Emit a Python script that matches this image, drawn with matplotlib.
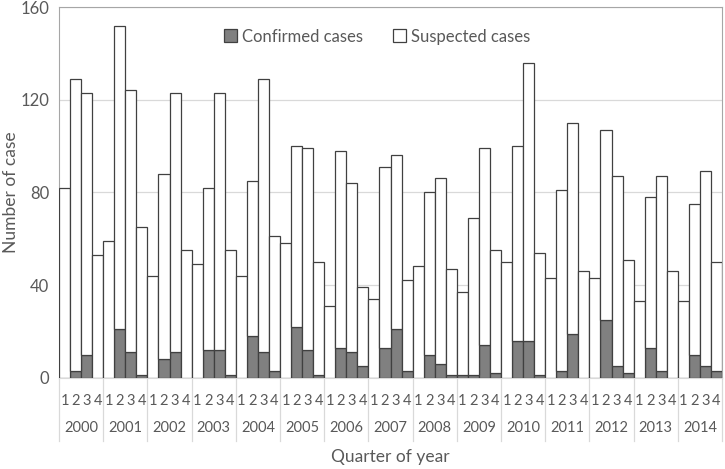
import numpy as np
import matplotlib
matplotlib.use("Agg")
import matplotlib.pyplot as plt

plt.rcParams['font.family'] = ['Lato', 'DejaVu Sans']

# ---------- data ----------
years = ['2000', '2001', '2002', '2003', '2004', '2005', '2006', '2007',
         '2008', '2009', '2010', '2011', '2012', '2013', '2014']
quarters = ['1', '2', '3', '4']

# confirmed cases, 4 quarters per year
confirmed = [0, 3, 10, 0,
             0, 21, 11, 1,
             0, 8, 11, 0,
             0, 12, 12, 1,
             0, 18, 11, 3,
             0, 22, 12, 1,
             0, 13, 11, 5,
             0, 13, 21, 3,
             0, 10, 6, 1,
             1, 1, 14, 2,
             0, 16, 16, 1,
             0, 3, 19, 0,
             0, 25, 5, 2,
             0, 13, 3, 0,
             0, 10, 5, 3]

# suspected cases (stacked on top of confirmed)
suspected = [82, 126, 113, 53,
             59, 131, 113, 64,
             44, 80, 112, 55,
             49, 70, 111, 54,
             44, 67, 118, 58,
             58, 78, 87, 49,
             31, 85, 73, 34,
             34, 78, 75, 39,
             48, 70, 80, 46,
             36, 68, 85, 53,
             50, 84, 120, 53,
             43, 78, 91, 46,
             43, 82, 82, 49,
             33, 65, 84, 46,
             33, 65, 84, 47]

text_col = '#595959'
grid_col = '#d9d9d9'

# ---------- figure ----------
fig = plt.figure(figsize=(7.25, 4.69), dpi=100)
W, H = 725, 469
x0, x1, ytop, ybot = 59, 722, 7, 377.7
ax = fig.add_axes([x0 / W, (H - ybot) / H, (x1 - x0) / W, (ybot - ytop) / H])

n = len(confirmed)
x = np.arange(n)
conf = np.array(confirmed)
susp = np.array(suspected)

ax.bar(x, conf, width=1.0, color='#808080', edgecolor='#404040', linewidth=0.9,
       label='Confirmed cases', zorder=3)
ax.bar(x, susp, width=1.0, bottom=conf, color='white', edgecolor='#404040',
       linewidth=0.9, label='Suspected cases', zorder=3)

ax.set_xlim(-0.5, n - 0.5)
ax.set_ylim(0, 160)
ax.set_yticks([0, 40, 80, 120, 160])
ax.yaxis.grid(True, color=grid_col, linewidth=0.9, zorder=0)

# quarter labels on ticks
ax.set_xticks(x)
ax.set_xticklabels(quarters * len(years))
ax.tick_params(axis='x', length=0, pad=12, labelsize=10.5, colors=text_col)
ax.tick_params(axis='y', length=0, pad=7, labelsize=12, colors=text_col)

# year labels and group separators
tr = ax.get_xaxis_transform()
h_ax = ybot - ytop
for i, yr in enumerate(years):
    ax.text(4 * i + 1.5, -(428 - ybot) / h_ax, yr, transform=tr, ha='center',
            va='center', fontsize=10.5, color=text_col)
for i in range(len(years) + 1):
    ax.plot([4 * i - 0.5, 4 * i - 0.5], [0, -(441 - ybot) / h_ax], transform=tr,
            color=grid_col, linewidth=0.9, clip_on=False)

for side in ['left', 'top', 'right']:
    ax.spines[side].set_color('#a6a6a6')
ax.spines['bottom'].set_color(grid_col)

ax.set_xlabel('Quarter of year', fontsize=12.5, color=text_col)
ax.xaxis.set_label_coords(0.5, -(449 - ybot) / h_ax)
ax.set_ylabel('Number of case', fontsize=12.5, color=text_col)
ax.yaxis.set_label_coords(-(x0 - 19) / (x1 - x0), 0.5)

ax.legend(loc='center', bbox_to_anchor=(0.48, 0.92), ncol=2, frameon=False,
          fontsize=12, labelcolor=text_col, handlelength=0.8, handleheight=0.8,
          handletextpad=0.3, columnspacing=1.8)

fig.savefig('out.png', dpi=100)
